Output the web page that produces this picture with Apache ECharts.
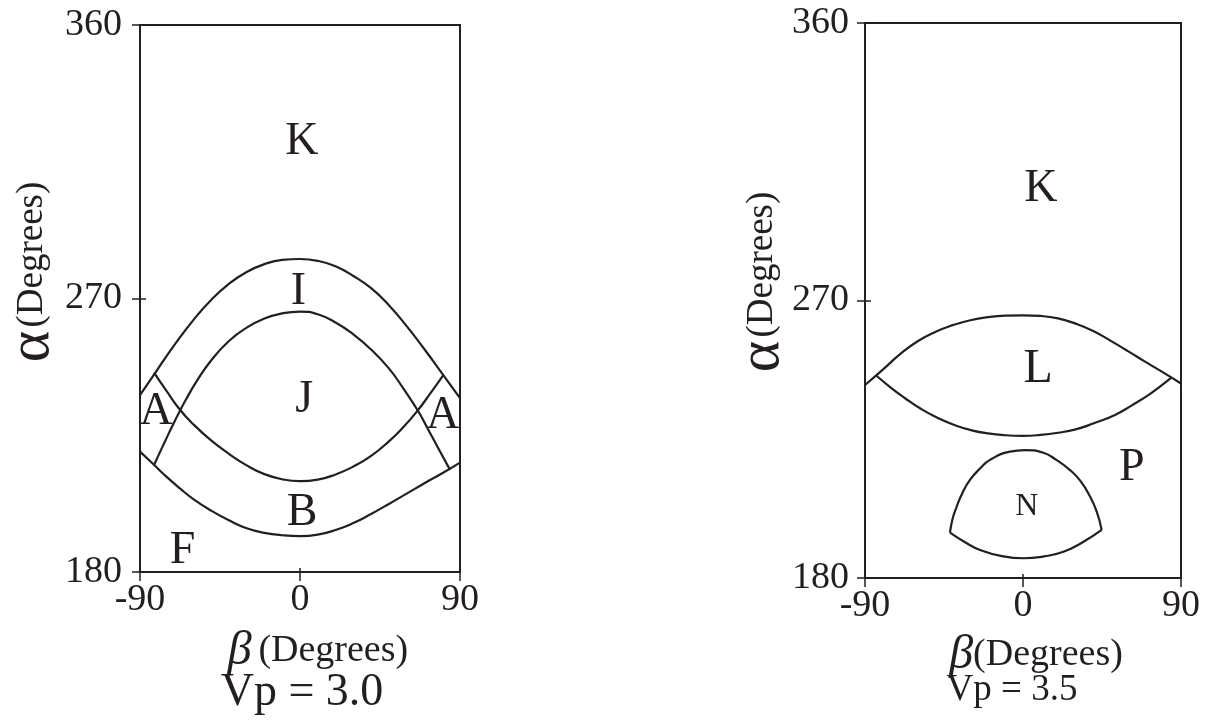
<!DOCTYPE html>
<html>
<head>
<meta charset="utf-8">
<script src="https://cdn.jsdelivr.net/npm/echarts@6/dist/echarts.min.js"></script>
<style>
  html, body { margin: 0; padding: 0; background: #fff; }
  #chart { width: 1209px; height: 720px; }
</style>
</head>
<body>
<div id="chart"></div>
<script>
// Axis ticks (degrees)
const betaTicks = [-90, 0, 90];
const alphaTicks = [180, 270, 360];

// Vp = 3.0 : region boundaries as [beta, alpha]
const vp30UpperOuter = [[-90, 238.2], [-80, 246.8], [-70, 255.2], [-60, 262.9], [-50, 269.5], [-40, 274.8], [-30, 278.7], [-20, 281.3], [-10, 282.7], [0, 283.0], [10, 282.4], [20, 280.6], [30, 277.4], [40, 273.4], [50, 267.8], [60, 260.9], [70, 253.3], [80, 245.3], [90, 237.2]];
const vp30UpperInner = [[-82.1, 215.2], [-76, 222.9], [-70, 230.2], [-64, 236.9], [-58, 242.9], [-50, 249.6], [-40, 256.0], [-30, 260.4], [-20, 263.4], [-10, 265.1], [0, 265.7], [10, 264.8], [20, 262.1], [30, 258.2], [40, 253.2], [50, 247.0], [58, 240.5], [66.6, 232.8], [72, 227.0], [78, 220.5], [84.4, 213.6]];
const vp30LowerInner = [[-82.1, 245.6], [-75, 239.5], [-67.5, 233.4], [-60, 228.6], [-50, 223.3], [-40, 218.9], [-30, 215.1], [-20, 212.2], [-10, 210.5], [0, 209.9], [10, 210.4], [20, 212.1], [30, 214.7], [40, 218.2], [50, 223.0], [58, 227.6], [65.6, 232.7], [73, 238.5], [80.6, 244.8]];
const vp30LowerOuter = [[-90, 219.6], [-82, 215.2], [-75, 211.3], [-67.5, 207.5], [-60, 204.0], [-50, 200.2], [-40, 197.0], [-30, 194.4], [-20, 192.9], [-10, 192.1], [0, 191.8], [10, 192.3], [20, 193.8], [30, 196.1], [40, 199.1], [50, 202.4], [60, 205.8], [70, 209.2], [80, 212.5], [90, 216.0]];
const vp30Regions = [['K', 1, 321.5], ['I', -0.9, 272.2], ['J', 2.3, 236.6], ['A', -81, 232.6], ['A', 80.4, 231.3], ['B', 1.2, 199.4], ['F', -66.1, 187.1]];

// Vp = 3.5 : region boundaries as [beta, alpha]
const vp35LTop = [[-90, 242.6], [-80, 247.5], [-70, 252.6], [-60, 256.8], [-50, 259.8], [-40, 262.0], [-30, 263.6], [-20, 264.6], [-10, 265.1], [0, 265.2], [10, 265.0], [20, 264.2], [30, 262.5], [40, 260.1], [50, 256.9], [60, 253.5], [70, 250.0], [80, 246.6], [90, 243.1]];
const vp35LBottom = [[-83.3, 245.5], [-75, 241.6], [-67.2, 238.3], [-58, 234.8], [-48.2, 231.8], [-38, 229.4], [-29.2, 227.9], [-20, 226.9], [-10, 226.3], [0, 226.1], [10, 226.4], [20, 227.1], [30, 228.2], [40, 230.1], [52.4, 232.9], [62, 236.0], [71.4, 239.3], [78, 242.1], [84.7, 245.1]];
const vp35NTop = [[-41.6, 194.7], [-40.2, 199.0], [-37.8, 203.1], [-34.5, 207.6], [-30.2, 211.8], [-24.5, 215.5], [-18.8, 218.3], [-7.4, 221.0], [1.1, 221.5], [11.6, 220.6], [19, 218.3], [26.8, 215.0], [32.8, 211.4], [38.2, 206.4], [42, 201.5], [44.8, 195.6]];
const vp35NBottom = [[-41.6, 194.7], [-33, 191.6], [-24.5, 189.1], [-12, 187.1], [0.2, 186.4], [12, 187.0], [23.0, 188.5], [34, 191.6], [44.8, 195.6]];
const vp35Regions = [['K', 10.2, 306.3], ['L', 8.6, 247.5], ['P', 61.9, 215.8], ['N', 2.1, 203.1]];

const INK = '#231f20';
const SERIF = "'Liberation Serif', 'Times New Roman', serif";
const labelSizes = { L: 48, N: 32 };

function xAxisFor(gridIndex, inner) {
  return {
    type: 'value', gridIndex, position: 'bottom',
    min: betaTicks[0], max: betaTicks[betaTicks.length - 1], interval: 90,
    axisLine: { show: !inner, onZero: false, lineStyle: { color: INK, width: 2 } },
    axisTick: { show: true, inside: !!inner, length: inner ? 4 : 9, lineStyle: { color: INK, width: 1.5 } },
    axisLabel: { show: !inner, color: INK, fontFamily: SERIF, fontSize: 38, margin: 9 },
    splitLine: { show: false }
  };
}
function yAxisFor(gridIndex, margin, inner) {
  return {
    type: 'value', gridIndex, position: 'left',
    min: alphaTicks[0], max: alphaTicks[alphaTicks.length - 1], interval: 90,
    axisLine: { show: !inner, onZero: false, lineStyle: { color: INK, width: 2 } },
    axisTick: { show: true, inside: !!inner, length: inner ? 6 : 8, lineStyle: { color: INK, width: 1.5 } },
    axisLabel: { show: !inner, color: INK, fontFamily: SERIF, fontSize: 38, margin },
    splitLine: { show: false }
  };
}
function curve(data, idx) {
  return {
    type: 'line', xAxisIndex: idx, yAxisIndex: idx, data, smooth: 0.5,
    symbol: 'none', silent: true,
    lineStyle: { color: INK, width: 2.2 }
  };
}
function regionLabels(rows, idx) {
  return {
    type: 'scatter', xAxisIndex: idx, yAxisIndex: idx, symbolSize: 1, silent: true,
    itemStyle: { color: 'rgba(0,0,0,0)', opacity: 1 },
    data: rows.map(r => ({
      name: r[0], value: [r[1], r[2]],
      label: { fontSize: labelSizes[r[0]] || 46 }
    })),
    label: {
      show: true, position: 'inside', color: INK, fontFamily: SERIF,
      textBorderWidth: 0, opacity: 1,
      formatter: p => p.name, fontSize: 46
    }
  };
}

const chart = echarts.init(document.getElementById('chart'), null, { renderer: 'canvas' });
chart.setOption({
  backgroundColor: '#ffffff',
  animation: false,
  grid: [
    { left: 140, top: 25, width: 320, height: 547, show: true, borderColor: INK, borderWidth: 2, backgroundColor: 'transparent' },
    { left: 865, top: 23, width: 316, height: 555, show: true, borderColor: INK, borderWidth: 2, backgroundColor: 'transparent' }
  ],
  xAxis: [xAxisFor(0), xAxisFor(1), xAxisFor(0, true), xAxisFor(1, true)],
  yAxis: [yAxisFor(0, 18), yAxisFor(1, 16), yAxisFor(0, 0, true), yAxisFor(1, 0, true)],
  series: [
    curve(vp30UpperOuter, 0),
    curve(vp30UpperInner, 0),
    curve(vp30LowerInner, 0),
    curve(vp30LowerOuter, 0),
    regionLabels(vp30Regions, 0),
    curve(vp35LTop, 1),
    curve(vp35LBottom, 1),
    curve(vp35NTop, 1),
    curve(vp35NBottom, 1),
    regionLabels(vp35Regions, 1)
  ],
  graphic: [
    {
      type: 'text', x: 32, y: 272, rotation: Math.PI / 2,
      style: {
        text: '{a|α} {d|(Degrees)}', align: 'center', verticalAlign: 'middle', fill: INK,
        rich: { a: { fontFamily: SERIF, fontSize: 60, fill: INK }, d: { fontFamily: SERIF, fontSize: 37, fill: INK } }
      }
    },
    {
      type: 'text', x: 318, y: 651,
      style: {
        text: '{b|β}  {d|(Degrees)}', align: 'center', verticalAlign: 'middle', fill: INK,
        rich: { b: { fontFamily: SERIF, fontStyle: 'italic', fontSize: 48, fill: INK }, d: { fontFamily: SERIF, fontSize: 38, fill: INK } }
      }
    },
    {
      type: 'text', x: 302, y: 693,
      style: { text: 'Vp = 3.0', align: 'center', verticalAlign: 'middle', fill: INK, font: '46px ' + SERIF }
    },
    {
      type: 'text', x: 762, y: 282, rotation: Math.PI / 2,
      style: {
        text: '{a|α} {d|(Degrees)}', align: 'center', verticalAlign: 'middle', fill: INK,
        rich: { a: { fontFamily: SERIF, fontSize: 60, fill: INK }, d: { fontFamily: SERIF, fontSize: 37, fill: INK } }
      }
    },
    {
      type: 'text', x: 1036, y: 655,
      style: {
        text: '{b|β}{d|(Degrees)}', align: 'center', verticalAlign: 'middle', fill: INK,
        rich: { b: { fontFamily: SERIF, fontStyle: 'italic', fontSize: 48, fill: INK }, d: { fontFamily: SERIF, fontSize: 38, fill: INK } }
      }
    },
    {
      type: 'text', x: 1012, y: 690,
      style: { text: 'Vp = 3.5', align: 'center', verticalAlign: 'middle', fill: INK, font: '37px ' + SERIF }
    }
  ]
});
</script>
</body>
</html>
